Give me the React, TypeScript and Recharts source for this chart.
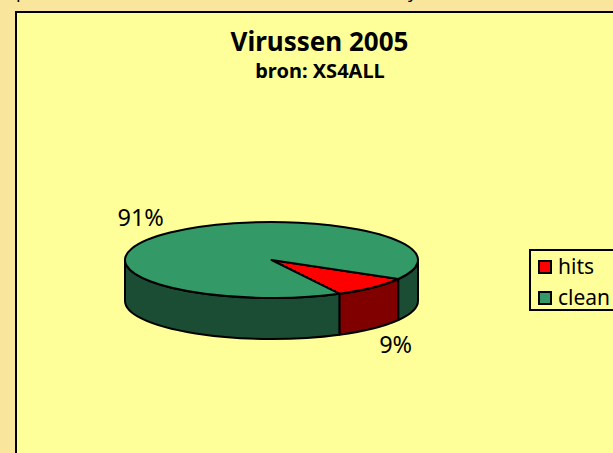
import { Legend, Pie, PieChart } from "recharts";

const categories = ["hits", "clean"];
const values = [9, 91];
const topColors = ["#FF0000", "#339966"];
const wallColors = ["#800000", "#1A4D33"];

const topData = categories.map((name, i) => ({ name, value: values[i], fill: topColors[i] }));
const wallData = categories.map((name, i) => ({ name, value: values[i], fill: wallColors[i] }));

const FONT = "Tahoma, 'Noto Sans', sans-serif";
const CX = 271.5;
const CY = 260;
const RX = 146.5;
const SQUASH = 38 / 146.5;
const DEPTH = 41;
const RAD = Math.PI / 180;

function pt(cx: number, cy: number, r: number, a: number) {
  return { x: cx + r * Math.cos(a * RAD), y: cy - r * SQUASH * Math.sin(a * RAD) };
}

function TopSlice(props: any) {
  const { cx, cy, outerRadius: r, startAngle, endAngle, fill } = props;
  const a = pt(cx, cy, r, startAngle);
  const b = pt(cx, cy, r, endAngle);
  const large = Math.abs(endAngle - startAngle) > 180 ? 1 : 0;
  return (
    <path
      d={`M${cx},${cy} L${a.x},${a.y} A${r},${r * SQUASH} 0 ${large} 1 ${b.x},${b.y} Z`}
      fill={fill}
      stroke="#000"
      strokeWidth={2}
      strokeLinejoin="round"
    />
  );
}

// side wall: only the parts of a slice on the front half of the disc show
function WallSlice(props: any) {
  const { cx, cy, outerRadius: r, startAngle, endAngle, fill } = props;
  const parts: string[] = [];
  for (const [lo, hi] of [[-180, 0], [-540, -360]]) {
    const from = Math.min(hi, startAngle);
    const to = Math.max(lo, endAngle);
    if (from <= to) continue;
    const a = pt(cx, cy, r, from);
    const b = pt(cx, cy, r, to);
    parts.push(
      `M${a.x},${a.y} A${r},${r * SQUASH} 0 0 1 ${b.x},${b.y} L${b.x},${b.y + DEPTH} A${r},${r * SQUASH} 0 0 0 ${a.x},${a.y + DEPTH} Z`
    );
  }
  return <path d={parts.join(" ")} fill={fill} stroke="#000" strokeWidth={2} strokeLinejoin="round" />;
}

function PctLabel(props: any) {
  const { cx, cy, midAngle, value } = props;
  const c = Math.cos(midAngle * RAD);
  const s = Math.sin(midAngle * RAD);
  const x = cx + 155.5 * c;
  const y = cy - 60 * s + (s < 0 ? DEPTH : 0);
  return (
    <text x={x} y={y} textAnchor={c < 0 ? "end" : "start"} dominantBaseline="central" fontFamily={FONT} fontSize={23.5} fill="#000">
      {`${value}%`}
    </text>
  );
}

function LegendBox() {
  return (
    <div style={{ border: "2px solid #000", boxSizing: "border-box", width: 90, height: 62, padding: "0 0 0 7px", fontFamily: FONT, fontSize: 21, lineHeight: "31px", color: "#000" }}>
      {categories.map((name, i) => (
        <div key={name} style={{ display: "flex", alignItems: "center", height: 31 }}>
          <span style={{ width: 10, height: 10, border: "2px solid #000", background: topColors[i], marginRight: 6 }} />
          <span>{name}</span>
        </div>
      ))}
    </div>
  );
}

export default function App() {
  return (
    <div style={{ position: "fixed", left: 0, top: 0, width: 613, height: 453, overflow: "hidden", background: "#F9E59B" }}>
      <div style={{ position: "absolute", left: 15, top: 11, width: 700, height: 600, background: "#FFFF99", border: "2px solid #000" }} />
      <PieChart width={613} height={453} margin={{ top: 0, right: 0, bottom: 0, left: 0 }} style={{ position: "absolute", left: 0, top: 0 }}>
        <text x={16} y={-2} fontFamily={FONT} fontSize={18} fill="#000">p</text>
        <text x={408} y={-2} fontFamily={FONT} fontSize={18} fill="#000">y</text>
        <text x={319.5} y={51} textAnchor="middle" fontFamily={FONT} fontSize={26} fontWeight="bold" fill="#000">Virussen 2005</text>
        <text x={320} y={78} textAnchor="middle" fontFamily={FONT} fontSize={20} fontWeight="bold" fill="#000">bron: XS4ALL</text>
        <Pie data={wallData} dataKey="value" nameKey="name" cx={CX} cy={CY} outerRadius={RX} startAngle={-30} endAngle={-390} shape={WallSlice} legendType="none" isAnimationActive={false} />
        <Pie data={topData} dataKey="value" nameKey="name" cx={CX} cy={CY} outerRadius={RX} startAngle={-30} endAngle={-390} shape={TopSlice} label={PctLabel} labelLine={false} isAnimationActive={false} />
        <Legend content={<LegendBox />} wrapperStyle={{ position: "absolute", left: 529, top: 249, width: 90, bottom: "auto" }} />
      </PieChart>
    </div>
  );
}
